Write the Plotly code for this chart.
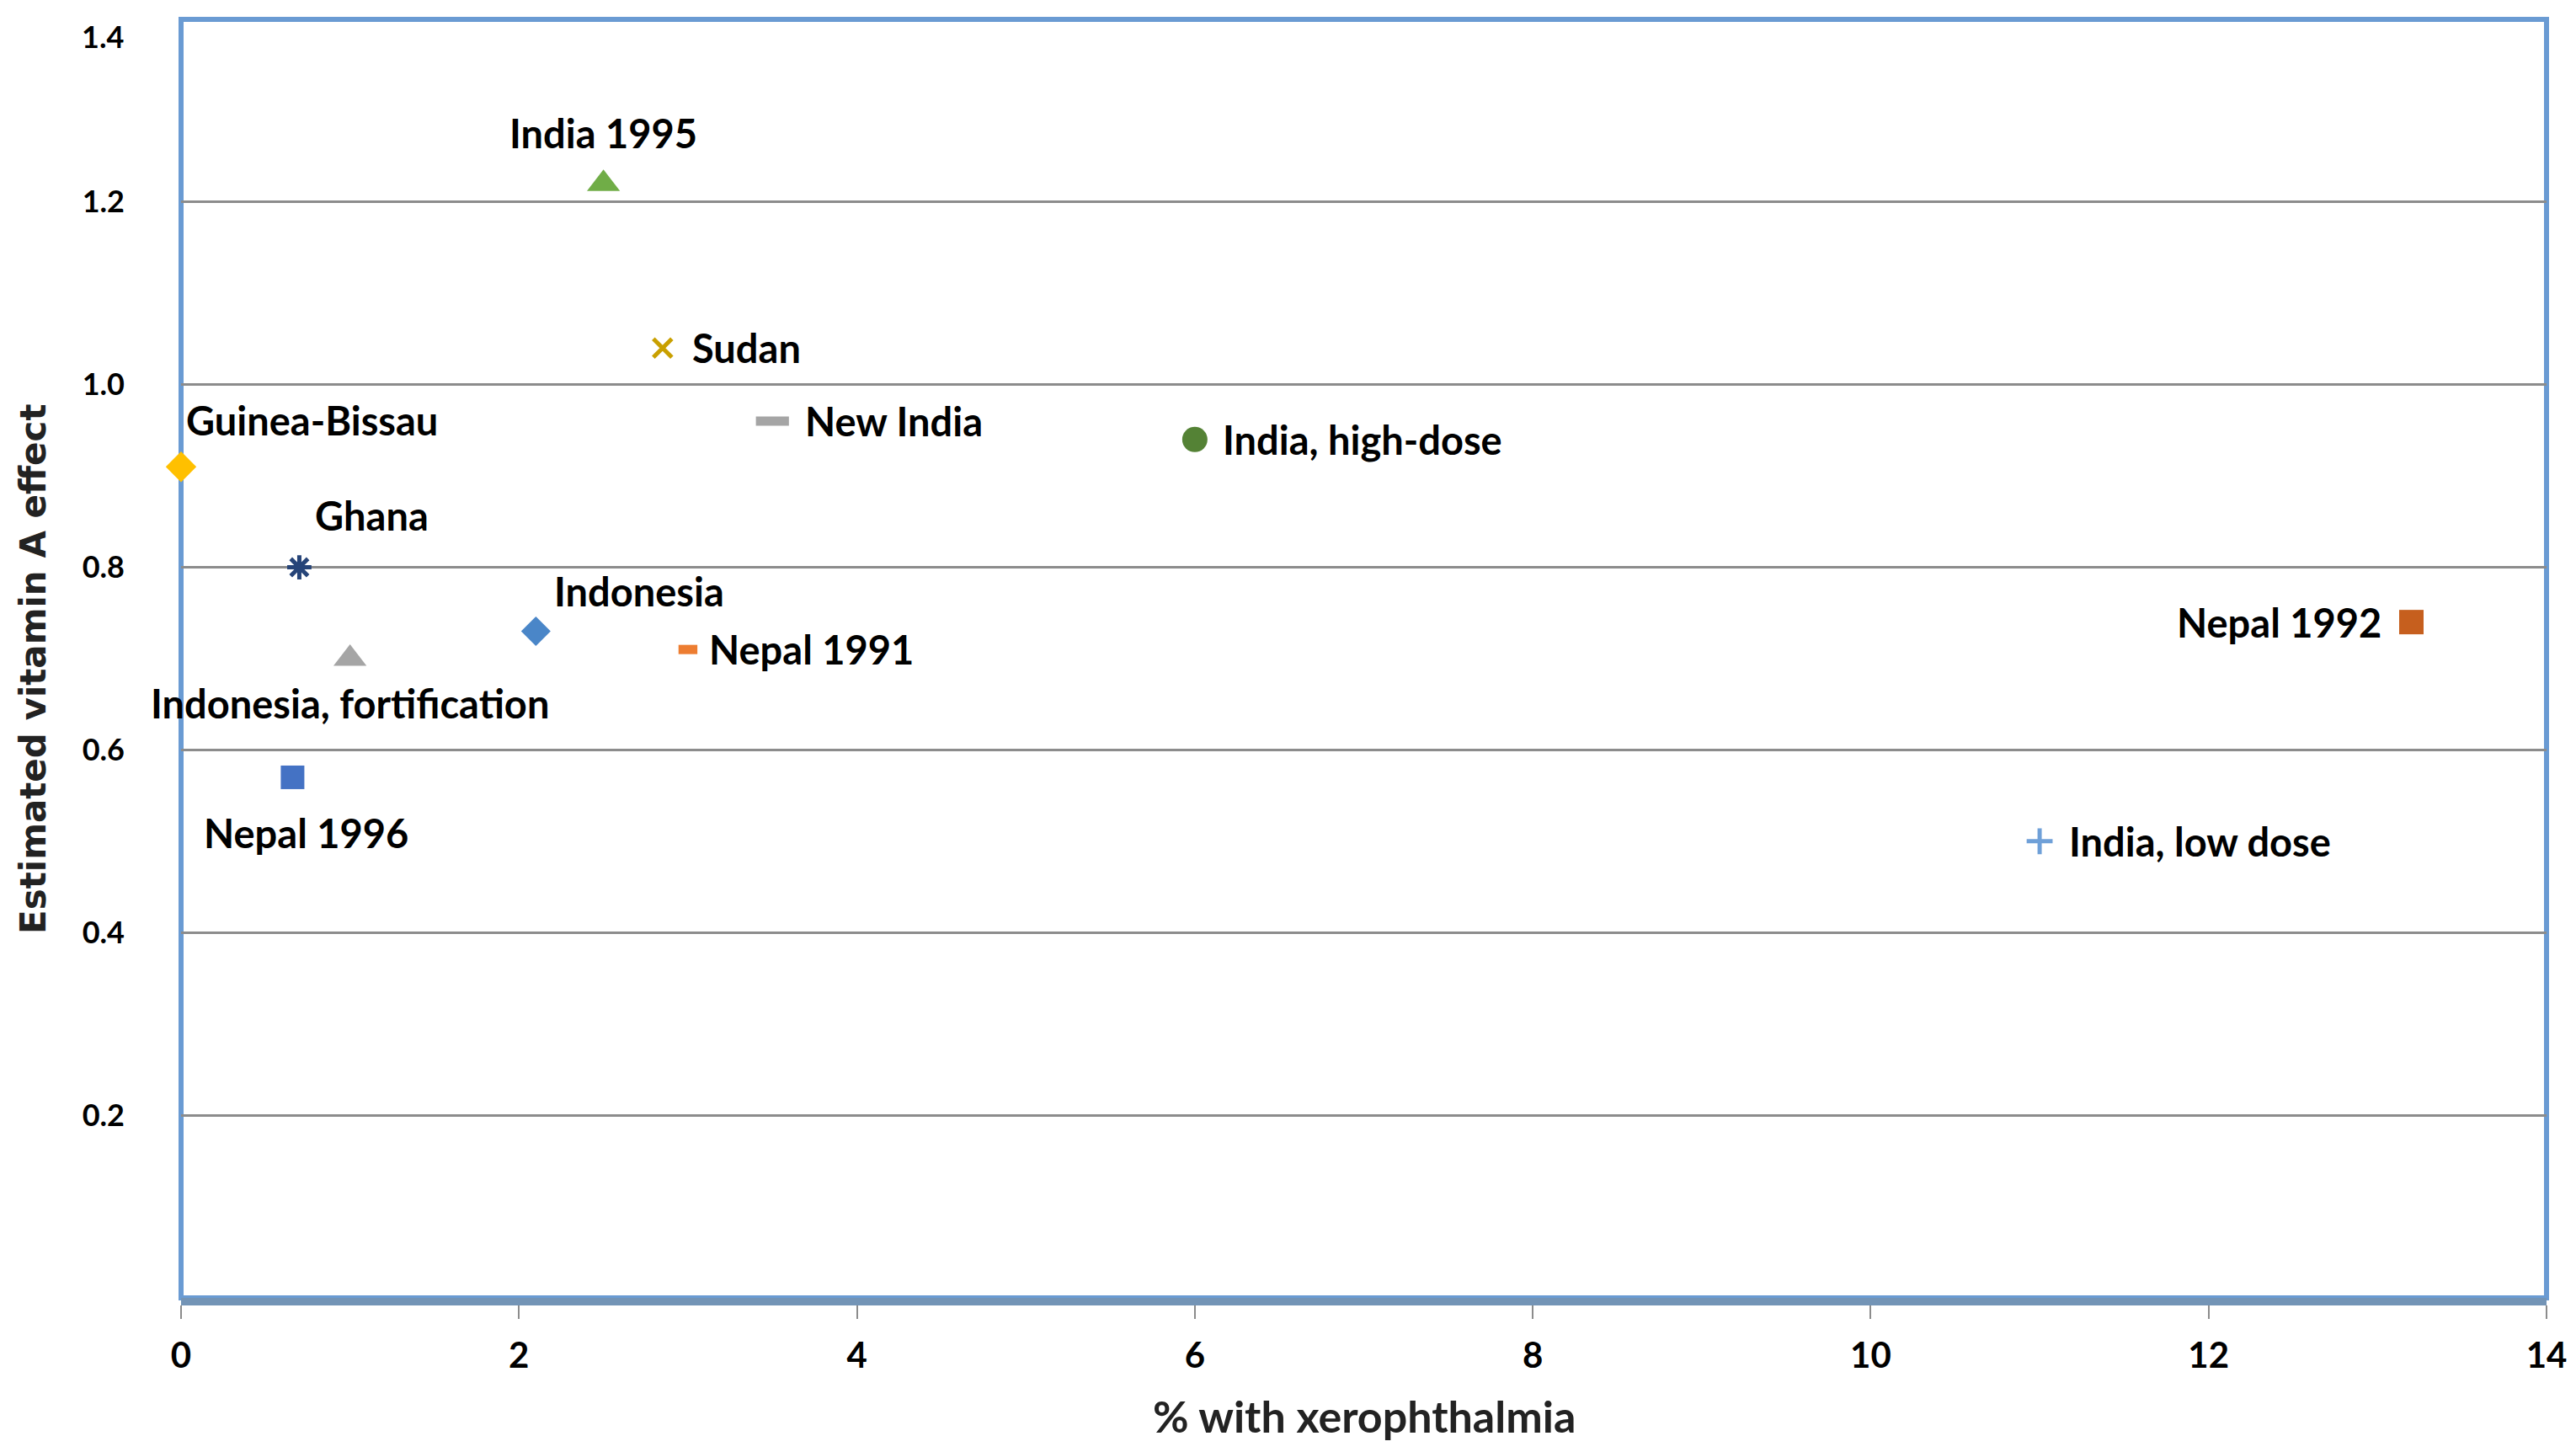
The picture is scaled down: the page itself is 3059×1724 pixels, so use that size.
import plotly.graph_objects as go

# data
studies = [
    "Nepal 1996", "Nepal 1991", "Indonesia, fortification", "Guinea-Bissau",
    "Indonesia", "India 1995", "Ghana", "Nepal 1992", "Sudan", "New India",
    "India, high-dose", "India, low dose",
]
xeroph = [0.66, 3.0, 1.0, 0.0, 2.1, 2.5, 0.7, 13.2, 2.85, 3.5, 6.0, 11.0]
va_effect = [0.57, 0.71, 0.70, 0.91, 0.73, 1.22, 0.80, 0.74, 1.04, 0.96, 0.94, 0.50]

x_ticks = [0, 2, 4, 6, 8, 10, 12, 14]
y_ticks = [0.2, 0.4, 0.6, 0.8, 1.0, 1.2, 1.4]

# marker look per study: symbol, colour, size, outline width
styles = {
    "Nepal 1996": ("square", "#4472C4", 28, 0),
    "Nepal 1991": ("line-ew", "#ED7D31", 16, 11),
    "Indonesia, fortification": ("triangle-up", "#A5A5A5", 34, 0),
    "Guinea-Bissau": ("diamond", "#FFC000", 28, 0),
    "Indonesia": ("diamond", "#4A86C8", 27, 0),
    "India 1995": ("triangle-up", "#70AD47", 34, 0),
    "Ghana": ("asterisk-open", "#264478", 24, 5),
    "Nepal 1992": ("square", "#C65F1E", 29, 0),
    "Sudan": ("x-thin-open", "#C9A000", 22, 5),
    "New India": ("line-ew", "#A5A5A5", 28, 11),
    "India, high-dose": ("circle", "#548235", 30, 0),
    "India, low dose": ("cross-thin-open", "#6FA0D8", 22, 5),
}

# label placement: xanchor, yanchor, xshift, yshift (px)
label_pos = {
    "Nepal 1996": ("center", "middle", 16, -66),
    "Nepal 1991": ("left", "middle", 23, 0),
    "Indonesia, fortification": ("center", "middle", 0, -53),
    "Guinea-Bissau": ("left", "middle", 4, 55),
    "Indonesia": ("center", "middle", 123, 47),
    "India 1995": ("center", "middle", 0, 60),
    "Ghana": ("center", "middle", 86, 62),
    "Nepal 1992": ("right", "middle", -33, 0),
    "Sudan": ("left", "middle", 33, 0),
    "New India": ("left", "middle", 37, 0),
    "India, high-dose": ("left", "middle", 31, 0),
    "India, low dose": ("left", "middle", 33, 0),
}

label_font = dict(family="Lato, 'Open Sans', sans-serif", size=47, color="black")
tick_family = "'Liberation Sans Narrow', Lato, sans-serif"
y_tick_font = dict(family=tick_family, size=36, color="black", weight="bold")

fig = go.Figure()
for name, xv, yv in zip(studies, xeroph, va_effect):
    sym, col, size, lw = styles[name]
    marker = dict(symbol=sym, color=col, size=size)
    if lw:
        marker["line"] = dict(color=col, width=lw)
    else:
        marker["line"] = dict(width=0)
    fig.add_trace(go.Scatter(
        x=[xv], y=[yv], mode="markers", name=name,
        marker=marker, cliponaxis=False, showlegend=False,
    ))
    xa, ya, xs, ys = label_pos[name]
    fig.add_annotation(
        x=xv, y=yv, text="<b>%s</b>" % name, showarrow=False,
        xanchor=xa, yanchor=ya, xshift=xs, yshift=ys, font=label_font,
    )

# plot frame
fig.add_shape(
    type="rect", xref="paper", yref="paper", x0=0, x1=1, y0=0, y1=1,
    line=dict(color="#6A9BD3", width=6), layer="between",
)

# the top y label sits a little below its line (as in the source chart)
fig.add_annotation(
    xref="paper", yref="y", x=0, y=y_ticks[-1], xanchor="right", yanchor="middle",
    xshift=-66, yshift=-20, showarrow=False, text="%.1f" % y_ticks[-1],
    font=y_tick_font,
)

# axis titles
fig.add_annotation(
    xref="paper", yref="paper", x=0.5, y=0, xanchor="center", yanchor="middle",
    yshift=-140, showarrow=False, text="<b>% with xerophthalmia</b>",
    font=dict(family="Lato, sans-serif", size=52, color="#222222"),
)
fig.add_annotation(
    xref="paper", yref="paper", x=0, y=0.5, xanchor="center", yanchor="middle",
    xshift=-176, yshift=-12, textangle=-90, showarrow=False,
    text="<b>Estimated vitamin A effect</b>",
    font=dict(family="'DejaVu Sans', Verdana, sans-serif", size=42, color="#222222"),
)

fig.update_xaxes(
    range=[0, 14], tickvals=x_ticks, showgrid=False, zeroline=False,
    showline=True, linecolor="#7394B6", linewidth=9, automargin=False,
    ticks="outside", ticklen=16, tickwidth=2, tickcolor="#8C8C8C",
    ticklabelstandoff=8,
    tickfont=dict(family=tick_family, size=42, color="black", weight="bold"),
)
fig.update_yaxes(
    range=[0, 1.4], tickvals=y_ticks[:-1], tickformat=".1f", automargin=False,
    showgrid=True, gridcolor="#8C8C8C", gridwidth=3, zeroline=False,
    ticks="", ticklabelstandoff=66,
    tickfont=y_tick_font,
)

fig.update_layout(
    width=3059, height=1724,
    margin=dict(l=207, r=43, t=15, b=191),
    paper_bgcolor="white", plot_bgcolor="white",
)

fig.write_html("out.html")
